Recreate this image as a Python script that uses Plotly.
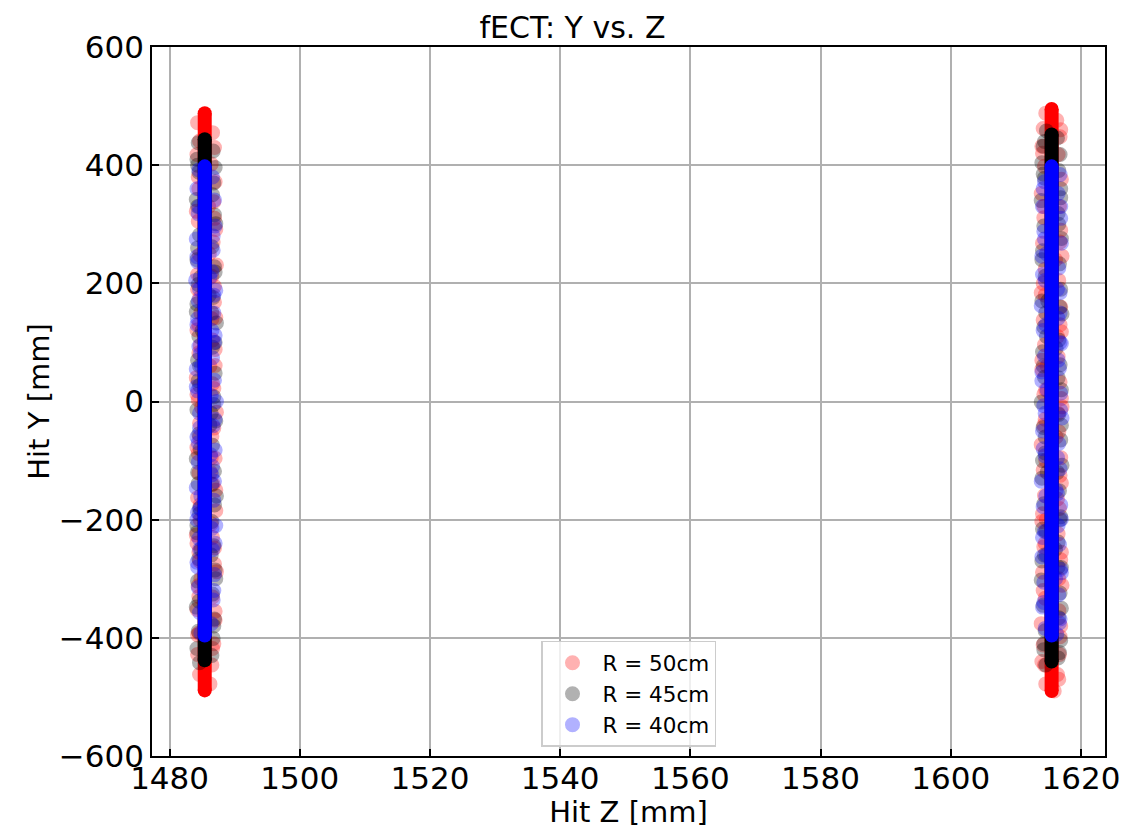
import plotly.graph_objects as go

# ---------------- data ----------------
# dense core of each series: disc z position and y extent (min, max)
core_z = [1485.4, 1615.5]
red_core_y = [[-489, 488], [-490, 495]]
black_core_y = [[-438, 444], [-440, 452]]
blue_core_y = [[-396, 398], [-396, 398]]

# scattered hits around the cores, (z, y) in mm
red_hits = [
    (1484.3, 472), (1486.6, 455), (1484.6, 441), (1486.9, 430), (1484.2, 418), (1486.4, 402),
    (1487.0, 372), (1484.5, 360), (1486.8, 338), (1484.1, 322), (1484.4, 305), (1487.1, 291),
    (1486.7, 270), (1484.6, 248), (1487.2, 231), (1486.5, 212), (1484.3, 190), (1486.9, 168),
    (1487.1, 142), (1484.2, 121), (1486.6, 104), (1484.5, 82), (1487.0, 61), (1484.1, 40),
    (1486.8, 22), (1484.4, 3), (1487.2, -18), (1484.6, -37), (1486.5, -59), (1484.2, -78),
    (1487.0, -96), (1484.5, -121), (1486.7, -140), (1484.3, -163), (1487.1, -185), (1486.4, -207),
    (1484.1, -226), (1486.9, -248), (1484.6, -270), (1487.2, -288), (1484.4, -312), (1486.6, -331),
    (1484.2, -352), (1487.0, -370), (1484.5, -392), (1486.8, -410), (1484.3, -428), (1486.5, -446),
    (1484.6, -462), (1486.2, -478), (1484.8, 150), (1486.2, 60), (1484.9, -10), (1486.3, -120),
    (1484.7, -200), (1486.1, 250), (1484.8, -300), (1486.0, 330),
    (1484.3, 215), (1486.9, 195), (1484.5, 130), (1487.0, 88), (1484.2, 12), (1486.8, -45),
    (1484.4, -88), (1487.1, -150), (1484.2, -240), (1486.9, -275), (1484.5, -330), (1487.0, -355),
    (1484.3, -395), (1486.6, -418), (1484.4, 380), (1486.9, 310),
    (1484.6, 175), (1486.5, 140), (1484.7, 95), (1486.6, 30), (1484.6, -60), (1486.4, -95),
    (1484.7, -175), (1486.6, -230), (1484.5, -255),
    (1614.6, 488), (1616.3, 476), (1614.2, 462), (1616.8, 448), (1614.0, 432), (1616.5, 418),
    (1614.4, 398), (1617.0, 376), (1613.9, 352), (1616.7, 330), (1614.3, 311), (1616.9, 290),
    (1614.1, 268), (1617.1, 246), (1614.5, 224), (1616.6, 205), (1613.9, 184), (1616.9, 160),
    (1614.2, 138), (1617.0, 118), (1614.4, 96), (1616.5, 76), (1614.0, 54), (1616.8, 33),
    (1614.3, 12), (1617.1, -9), (1614.5, -30), (1616.6, -51), (1613.9, -73), (1616.9, -95),
    (1614.2, -116), (1617.0, -138), (1614.4, -159), (1616.7, -181), (1614.0, -203), (1616.5, -224),
    (1614.3, -246), (1616.9, -268), (1614.1, -289), (1617.1, -311), (1614.5, -333), (1616.6, -354),
    (1613.9, -376), (1616.8, -398), (1614.2, -412), (1616.7, -428), (1614.4, -446), (1616.4, -462),
    (1614.6, -478), (1615.9, -490), (1614.8, 60), (1616.2, -60), (1614.7, -200), (1616.1, 240),
    (1614.1, 420), (1616.9, 460), (1614.2, 200), (1616.8, 130), (1614.0, 70), (1617.0, 5),
    (1614.3, -40), (1616.8, -125), (1614.1, -190), (1617.0, -255), (1614.2, -320), (1616.9, -380),
    (1614.0, -440), (1616.6, -470), (1614.3, 330), (1616.8, 270),
    (1614.5, 180), (1616.4, 110), (1614.6, 20), (1616.5, -20), (1614.6, -100), (1616.4, -165),
    (1614.5, -240), (1616.6, -300),
]

black_hits = [
    (1484.4, 438), (1486.7, 424), (1484.2, 410), (1487.0, 396), (1484.5, 388), (1486.8, 370),
    (1484.1, 342), (1484.3, 330), (1486.9, 316), (1487.1, 301), (1484.6, 282), (1486.5, 262),
    (1484.2, 240), (1487.0, 219), (1484.4, 198), (1486.7, 176), (1484.1, 152), (1487.2, 133),
    (1484.5, 110), (1486.6, 92), (1484.3, 70), (1487.0, 48), (1484.6, 27), (1486.8, 8),
    (1484.2, -14), (1487.1, -33), (1484.5, -55), (1486.6, -74), (1484.1, -97), (1486.9, -118),
    (1484.4, -139), (1487.2, -160), (1484.6, -181), (1486.5, -203), (1484.2, -222), (1486.8, -244),
    (1484.5, -266), (1487.0, -285), (1484.3, -304), (1486.6, -326), (1484.1, -348), (1486.9, -368),
    (1484.4, -389), (1486.7, -401), (1484.2, -418), (1486.5, -430), (1484.6, -442),
    (1485.0, 120), (1486.2, -40), (1484.8, -250), (1486.1, 180),
    (1484.3, 260), (1486.9, 228), (1484.2, 165), (1487.0, 100), (1484.4, 35), (1486.8, -5),
    (1484.3, -120), (1486.9, -175), (1484.2, -210), (1487.1, -300), (1484.5, -338), (1486.8, -380),
    (1484.3, 400), (1486.6, 350),
    (1484.7, 210), (1486.5, 150), (1484.6, 60), (1486.4, -20), (1484.7, -80), (1486.5, -140),
    (1484.6, -190), (1486.4, -260),
    (1614.7, 458), (1616.4, 446), (1614.2, 432), (1616.8, 418), (1614.0, 404), (1616.6, 391),
    (1614.4, 378), (1616.9, 360), (1613.9, 340), (1616.5, 318), (1614.3, 297), (1617.0, 276),
    (1614.1, 255), (1616.7, 233), (1614.5, 212), (1616.9, 190), (1614.0, 170), (1617.1, 148),
    (1614.3, 126), (1616.6, 104), (1614.1, 84), (1616.8, 62), (1614.4, 41), (1617.0, 20),
    (1613.9, -1), (1616.6, -22), (1614.2, -44), (1616.9, -65), (1614.5, -87), (1617.1, -108),
    (1614.0, -130), (1616.7, -151), (1614.3, -173), (1616.9, -195), (1614.1, -216), (1616.5, -238),
    (1614.4, -260), (1617.0, -281), (1613.9, -302), (1616.8, -324), (1614.2, -345), (1616.6, -366),
    (1614.5, -388), (1616.9, -404), (1614.3, -420), (1616.5, -434), (1614.6, -446),
    (1614.8, -120), (1616.2, 90), (1614.9, 170), (1616.1, -250),
    (1614.2, 385), (1616.9, 345), (1614.0, 240), (1616.8, 160), (1614.2, 60), (1617.0, -40),
    (1614.1, -100), (1616.8, -200), (1614.0, -270), (1617.0, -350), (1614.3, -410), (1616.7, -425),
    (1614.4, 440), (1616.6, 300),
    (1614.6, 150), (1616.5, 40), (1614.5, -60), (1616.4, -120), (1614.6, -220), (1616.5, -280),
    (1614.7, 110),
]

blue_hits = [
    (1484.5, 392), (1486.6, 380), (1484.2, 360), (1486.9, 341), (1484.4, 318), (1487.0, 297),
    (1484.1, 275), (1486.7, 256), (1484.3, 236), (1486.5, 220), (1484.0, 205), (1487.1, 188),
    (1484.4, 170), (1486.8, 150), (1484.2, 130), (1487.0, 112), (1484.5, 93), (1486.6, 74),
    (1484.1, 55), (1486.9, 36), (1484.3, 18), (1487.2, 0), (1484.6, -20), (1486.7, -41),
    (1484.2, -60), (1487.0, -82), (1484.4, -103), (1486.5, -124), (1484.1, -146), (1486.8, -167),
    (1484.3, -188), (1487.1, -210), (1484.5, -232), (1486.6, -251), (1484.2, -272), (1486.9, -293),
    (1484.4, -315), (1486.7, -336), (1484.6, -357), (1486.4, -376), (1484.8, -392),
    (1484.9, 60), (1486.3, -90), (1484.8, -160), (1486.2, 210),
    (1484.2, 245), (1486.8, 180), (1484.3, 140), (1486.9, 100), (1484.1, 25), (1487.0, -30),
    (1484.4, -70), (1486.9, -135), (1484.2, -200), (1487.0, -240), (1484.3, -280), (1486.8, -320),
    (1484.5, 330), (1486.7, 280),
    (1484.6, 190), (1486.5, 120), (1484.7, 80), (1486.4, 10), (1484.6, -45), (1486.6, -110),
    (1484.7, -180), (1486.5, -215), (1484.6, -250),
    (1616.8, 384), (1614.4, 372), (1616.5, 352), (1614.1, 330), (1616.9, 310), (1614.3, 288),
    (1617.0, 268), (1614.0, 246), (1616.6, 226), (1614.5, 205), (1616.8, 184), (1613.9, 162),
    (1616.5, 141), (1614.2, 120), (1617.0, 98), (1614.4, 77), (1616.7, 56), (1614.0, 35),
    (1616.9, 14), (1614.3, -7), (1617.1, -28), (1614.1, -50), (1616.6, -71), (1614.5, -92),
    (1616.8, -114), (1613.9, -135), (1616.4, -156), (1614.2, -178), (1617.0, -199), (1614.4, -220),
    (1616.7, -242), (1614.0, -263), (1616.9, -284), (1614.3, -306), (1616.6, -327), (1614.1, -348),
    (1616.8, -368), (1614.5, -384), (1616.3, -394),
    (1614.8, 20), (1616.2, -150), (1614.7, 250), (1616.1, -300),
    (1614.2, 360), (1616.9, 330), (1614.1, 215), (1616.8, 150), (1614.0, 50), (1616.9, -15),
    (1614.2, -80), (1616.9, -175), (1614.1, -230), (1617.0, -290), (1614.3, -340), (1616.7, -375),
    (1614.4, 275), (1616.8, 100),
    (1614.6, 130), (1616.5, 70), (1614.5, -20), (1616.4, -95), (1614.6, -160), (1616.5, -210),
    (1614.7, -260), (1616.4, 190),
]

series_names = ["R = 50cm", "R = 45cm", "R = 40cm"]
series_colors = ["#ff0000", "#000000", "#0000ff"]

x_ticks = [1480, 1500, 1520, 1540, 1560, 1580, 1600, 1620]
y_ticks = [-600, -400, -200, 0, 200, 400, 600]

# ---------------- figure ----------------
fig = go.Figure()

cores = [red_core_y, black_core_y, blue_core_y]
halos = [red_hits, black_hits, blue_hits]

for name, color, core, hits in zip(series_names, series_colors, cores, halos):
    cx, cy = [], []
    for zc, (ylo, yhi) in zip(core_z, core):
        cx += [zc, zc, None]
        cy += [ylo, yhi, None]
    fig.add_trace(go.Scatter(
        x=cx, y=cy, mode="lines+markers",
        line=dict(color=color, width=14),
        marker=dict(color=color, size=14, line=dict(width=0)),
        showlegend=False, hoverinfo="skip"))
    fig.add_trace(go.Scatter(
        x=[p[0] for p in hits], y=[p[1] for p in hits], mode="markers", name=name,
        marker=dict(color=color, size=13.5, opacity=0.3,
                    line=dict(color=color, width=1.5))))

font_family = "DejaVu Sans, Arial, sans-serif"

# the page body adds an 8 px offset, so the figure is 8 px smaller
W, H = 1129, 821

fig.update_layout(
    width=W, height=H,
    margin=dict(l=144, r=32, t=39, b=73, autoexpand=False),
    paper_bgcolor="white", plot_bgcolor="white",
    font=dict(family=font_family, color="black", size=29),
    title=dict(text="fECT: Y vs. Z", x=0.5, xanchor="center",
               y=1 - 19 / H, yref="container", yanchor="middle",
               font=dict(size=30, family=font_family, color="black")),
    showlegend=True,
    legend=dict(x=0.5, xanchor="center", y=0.013, yanchor="bottom",
                bgcolor="rgba(255,255,255,0.8)", bordercolor="#cccccc",
                borderwidth=1.5, font=dict(size=21.5, family=font_family),
                itemsizing="trace", itemwidth=50, tracegroupgap=0),
)

axis_common = dict(
    showgrid=True, gridcolor="#b0b0b0", gridwidth=1.5,
    showline=True, linecolor="black", linewidth=1.6, mirror=True,
    ticks="inside", ticklen=7, tickwidth=1.6, tickcolor="black",
    zeroline=False, automargin=False,
    tickfont=dict(size=31, family=font_family, color="black"),
)

fig.update_xaxes(range=[1477.3, 1623.7], tickvals=x_ticks,
                 ticktext=[str(t) for t in x_ticks], ticklabelstandoff=-6,
                 title=dict(text="Hit Z [mm]", font=dict(size=29, family=font_family), standoff=2),
                 **axis_common)
fig.update_yaxes(range=[-600, 600], tickvals=y_ticks,
                 ticktext=[("\u2212" + str(-t)) if t < 0 else str(t) for t in y_ticks],
                 title=dict(text="Hit Y [mm]", font=dict(size=29, family=font_family), standoff=1),
                 **axis_common)

fig.write_html("out.html")
